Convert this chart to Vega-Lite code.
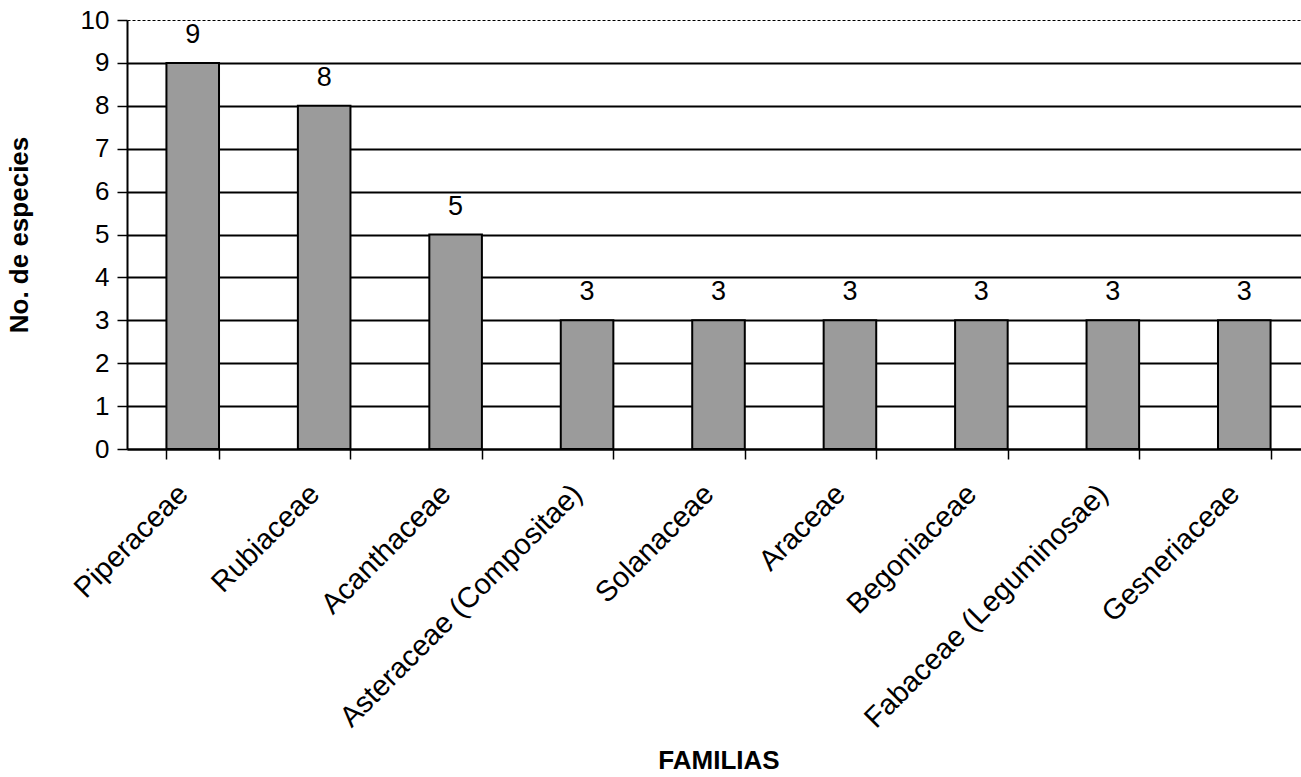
{
  "$schema": "https://vega.github.io/schema/vega-lite/v6.json",
  "autosize": {"type": "none"},
  "width": 1183,
  "height": 429,
  "padding": {"left": 127, "top": 20, "right": 0, "bottom": 328},
  "background": "white",
  "config": {
    "font": "Liberation Sans",
    "view": {"stroke": null}
  },
  "data": {
    "values": [
      {"familia": "Piperaceae", "especies": 9},
      {"familia": "Rubiaceae", "especies": 8},
      {"familia": "Acanthaceae", "especies": 5},
      {"familia": "Asteraceae (Compositae)", "especies": 3},
      {"familia": "Solanaceae", "especies": 3},
      {"familia": "Araceae", "especies": 3},
      {"familia": "Begoniaceae", "especies": 3},
      {"familia": "Fabaceae (Leguminosae)", "especies": 3},
      {"familia": "Gesneriaceae", "especies": 3}
    ]
  },
  "encoding": {
    "x": {
      "field": "familia",
      "type": "nominal",
      "sort": null,
      "scale": {"paddingInner": 0.6, "paddingOuter": 0.3},
      "axis": {
        "title": "FAMILIAS",
        "titleFontSize": 26,
        "titleFontWeight": "bold",
        "titleColor": "black",
        "titleY": 319,
        "titleBaseline": "alphabetic",
        "labelAngle": -45,
        "labelAlign": "right",
        "labelBaseline": "middle",
        "labelFontSize": 29,
        "labelColor": "black",
        "labelPadding": 30,
        "labelOffset": -10,
        "labelLimit": 0,
        "labelOverlap": false,
        "tickBand": "extent",
        "tickColor": "black",
        "tickSize": 10,
        "tickWidth": 1.5,
        "domainColor": "black",
        "domainWidth": 2,
        "grid": false
      }
    },
    "y": {
      "field": "especies",
      "type": "quantitative",
      "scale": {"domain": [0, 10]},
      "axis": {
        "title": "No. de especies",
        "titleFontSize": 26,
        "titleFontWeight": "bold",
        "titleColor": "black",
        "titlePadding": 48,
        "values": [0, 1, 2, 3, 4, 5, 6, 7, 8, 9, 10],
        "labelFontSize": 26,
        "labelColor": "black",
        "labelPadding": 8,
        "tickColor": "black",
        "tickSize": 10,
        "tickWidth": 1.5,
        "domainColor": "black",
        "domainWidth": 2,
        "grid": true,
        "gridColor": "black",
        "gridWidth": {"condition": {"test": "datum.value === 10", "value": 1}, "value": 1.8},
        "gridDash": {"condition": {"test": "datum.value === 10", "value": [3, 2]}, "value": []},
        "gridOpacity": 1
      }
    }
  },
  "layer": [
    {
      "mark": {"type": "bar", "fill": "#9b9b9b", "stroke": "black", "strokeWidth": 2}
    },
    {
      "mark": {"type": "text", "dy": -20, "baseline": "alphabetic", "fontSize": 27, "color": "black"},
      "encoding": {"text": {"field": "especies", "type": "quantitative"}}
    }
  ]
}
